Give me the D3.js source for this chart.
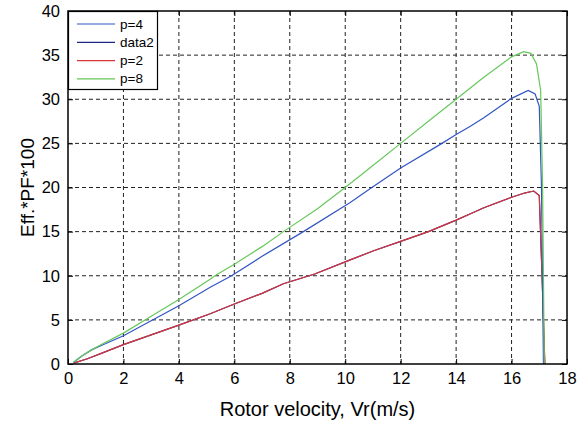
<!DOCTYPE html>
<html><head><meta charset="utf-8">
<script src="https://cdn.jsdelivr.net/npm/d3@7/dist/d3.min.js"></script>
<style>body{margin:0;background:#fff;} svg{display:block;font-family:"Liberation Sans",Arial,sans-serif;}</style>
</head><body>
<svg id="c" width="582" height="424"></svg>
<script>
// Data
const p8X = [0.2,0.5,0.85,1.2,2,3,4,5.13,5.3,6,7,7.77,9,10,11,12,13,14,15,16,16.44,16.7,16.9,17.05,17.12,17.18];
const p8Y = [0.2,0.9,1.6,2.2,3.5,5.4,7.3,9.6,10,11.3,13.3,15,17.6,20,22.5,25,27.5,30,32.5,34.8,35.4,35.2,34.0,31.0,20,0];
const p4X = [0.2,0.5,0.85,1.2,2,3,4,5.13,5.9,7,8.49,10.18,10.96,12,13.49,14,14.5,15,16,16.6,16.85,17.0,17.08,17.15];
const p4Y = [0.2,0.9,1.6,2.1,3.2,4.9,6.6,8.7,10,12.2,15,18.3,20,22.2,25,26,26.9,27.9,30.1,31.0,30.6,29.2,20,0];
const p2X = [0.2,0.7,1.2,2,3,4,5.13,6,7,7.77,8.9,10.18,11,12,13,14,14.5,15,16,16.5,16.8,17.0,17.1,17.2];
const p2Y = [0.1,0.6,1.2,2.2,3.3,4.4,5.7,6.8,8.0,9.1,10.2,11.8,12.8,13.9,15.0,16.3,17.0,17.7,18.9,19.4,19.6,19.1,10,0];
const data2X = p2X;
const data2Y = p2Y;
const xTicks = [0,2,4,6,8,10,12,14,16,18];
const yTicks = [0,5,10,15,20,25,30,35,40];
const seriesNames = ["p=4","data2","p=2","p=8"];
const seriesColors = ["#3355c4","#1c2a80","#d8343c","#66c85a"];

const svg = d3.select("#c");
const L=68, R=567, T=11, B=364;
const x = d3.scaleLinear().domain([0,18]).range([L,R]);
const y = d3.scaleLinear().domain([0,40]).range([B,T]);

// grid
const g = svg.append("g");
g.selectAll(".vg").data(xTicks.slice(1,-1)).enter().append("line")
  .attr("x1",d=>x(d)).attr("x2",d=>x(d)).attr("y1",T).attr("y2",B)
  .attr("stroke","#222").attr("stroke-width",1).attr("stroke-dasharray","4,3");
g.selectAll(".hg").data(yTicks.slice(1,-1)).enter().append("line")
  .attr("y1",d=>y(d)).attr("y2",d=>y(d)).attr("x1",L).attr("x2",R)
  .attr("stroke","#222").attr("stroke-width",1).attr("stroke-dasharray","4,3");

// axes
const xa = svg.append("g").attr("transform",`translate(0,${B})`)
  .call(d3.axisBottom(x).tickValues(xTicks).tickSize(-5).tickPadding(8).tickFormat(d3.format("d")));
const ya = svg.append("g").attr("transform",`translate(${L},0)`)
  .call(d3.axisLeft(y).tickValues(yTicks).tickSize(-5).tickPadding(8).tickFormat(d3.format("d")));
[xa,ya].forEach(a=>{a.select(".domain").remove();
  a.selectAll("text").attr("font-size",16.5).attr("fill","#000").attr("font-family","Liberation Sans, Arial, sans-serif");
  a.selectAll("line").attr("stroke","#000");});
// right & top ticks
svg.append("g").attr("transform",`translate(${R},0)`).call(d3.axisRight(y).tickValues(yTicks).tickSize(-5).tickFormat(""))
  .call(a=>{a.select(".domain").remove();a.selectAll("line").attr("stroke","#000");});
svg.append("g").attr("transform",`translate(0,${T})`).call(d3.axisTop(x).tickValues(xTicks).tickSize(-5).tickFormat(""))
  .call(a=>{a.select(".domain").remove();a.selectAll("line").attr("stroke","#000");});

// series
const line = d3.line().x(d=>x(d[0])).y(d=>y(d[1]));
const series = [
  {name:seriesNames[1], xs:data2X, ys:data2Y, c:seriesColors[1]},
  {name:seriesNames[2], xs:p2X, ys:p2Y, c:seriesColors[2]},
  {name:seriesNames[0], xs:p4X, ys:p4Y, c:seriesColors[0]},
  {name:seriesNames[3], xs:p8X, ys:p8Y, c:seriesColors[3]},
];
series.forEach(s=>{
  svg.append("path").datum(s.xs.map((v,i)=>[v,s.ys[i]]))
    .attr("d",line).attr("fill","none").attr("stroke",s.c).attr("stroke-width",1.2);
});

// frame
svg.append("rect").attr("x",L).attr("y",T).attr("width",R-L).attr("height",B-T)
  .attr("fill","none").attr("stroke","#000").attr("stroke-width",1.5);

// legend
const lg = svg.append("g");
lg.append("rect").attr("x",68.5).attr("y",11.5).attr("width",89).attr("height",78)
  .attr("fill","#fff").attr("stroke","#000").attr("stroke-width",1.2);
seriesNames.forEach((n,i)=>{
  const yy = 24 + i*18.3;
  lg.append("line").attr("x1",77).attr("x2",115).attr("y1",yy).attr("y2",yy)
    .attr("stroke",seriesColors[i]).attr("stroke-width",1.2);
  lg.append("text").attr("x",120).attr("y",yy+4.5).attr("font-size",13.5).text(n);
});

// titles
svg.append("text").attr("x",(L+R)/2).attr("y",416).attr("text-anchor","middle")
  .attr("font-size",20).text("Rotor velocity, Vr(m/s)");
svg.append("text").attr("transform",`translate(34,${(T+B)/2}) rotate(-90)`).attr("text-anchor","middle")
  .attr("font-size",19).text("Eff.*PF*100");
</script>
</body></html>
